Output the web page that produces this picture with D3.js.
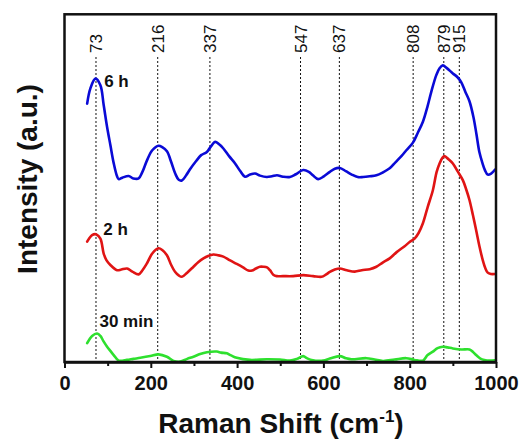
<!DOCTYPE html>
<html>
<head>
<meta charset="utf-8">
<script src="https://cdn.jsdelivr.net/npm/d3@7"></script>
<style>
  html, body { margin: 0; padding: 0; background: #fff; }
  svg { display: block; font-family: "Liberation Sans", Arial, sans-serif; }
</style>
</head>
<body>
<svg id="chart" width="522" height="439"></svg>
<script>
// Raman spectra, stacked: shift (cm-1) and intensity (a.u., offset per trace)
const shift6h = [52.5,60,71.7,83.2,90.8,98.7,106.3,114,121.8,125.5,134,148.6,159.5,171.8,180.3,191.2,203.4,218,226.5,237.4,247.3,256.6,264.7,272,282,291.3,305.1,316.7,329.9,339.8,349,358.3,368.2,381.4,395.3,406.8,418.4,430,441.5,453.1,468.6,480.8,492.4,506.2,522.4,536.3,553.2,566.3,575.6,587.8,601,614.9,626.5,638,651.9,665.8,679.6,691.9,707.4,722.8,737.4,753.6,767.5,781.3,792.2,807.5,818.3,830.6,841.5,850,861.6,869.2,876.8,885.4,900,910.8,919.3,929.3,938.5,947.8,954.7,961.6,968.6,974.3,980.8,988.7,997.5];
const int6h = [74.3,78.7,81.5,79.6,73.9,67.6,62.4,57.2,53.4,52.6,53,53.5,52.8,52.8,54.6,58,60.9,62.2,61.8,60.6,57.5,54.2,52.4,52.2,53.7,55.5,57.8,59.5,60.4,62.1,63.3,62.6,61.4,59.2,57.1,55,53.3,53.9,54.2,53.6,53.2,53.4,53.7,53.3,53.2,54,55.2,54.7,53.7,52.6,53.4,54.7,55.6,55.8,54.9,53.9,53.2,53.2,53.4,53.7,54.5,55.7,57.5,59.3,60.9,63.1,65.8,69.1,73.6,77.7,82.5,84.5,85.3,84.6,83,81.9,80.5,77.6,75,70.4,65.5,60.3,57.2,55.2,53.9,54.2,55.3];

const shift2h = [52.5,64,74,83.2,90.8,97.1,106.3,121.8,131.8,144.9,157.2,171.8,180.3,191.2,203.4,218,226.5,237.4,247.3,256.6,264.7,272,284.3,298.9,309.8,322,332.9,345.1,356,368.2,383.7,399.2,413.8,426,434.6,443.8,453.1,460.7,469.3,476.2,483.8,491.7,506.2,530,553.2,576.3,595.7,605.6,614.9,626.5,638,654.2,672.7,688.9,707.4,722.8,737.4,753.6,769.8,788.3,799.8,811.4,820.6,830.6,841.5,853.7,862.3,869.2,876.1,880.7,890,900,910.8,923.1,931.6,938.5,946.6,954,961.6,969.3,975.5,980.8,988.2,997.5];
const int2h = [34.6,36.5,36.7,35.5,31.2,29.3,27.9,26.4,26.6,26.9,26,25.2,26.3,28.4,31.2,32.7,32.2,30.7,27.9,25.9,24.9,24.5,25.7,27.4,28.7,29.8,30.5,30.9,30.7,30.3,29.2,28.2,27.2,26.3,26.3,26.9,27.4,27.4,27.2,26.4,25.1,24.7,24.7,24.7,25,24.7,24.5,25.1,25.9,26.6,26.9,26.4,26,26.4,26.7,27.4,28.6,29.8,31.6,33.3,34.5,35.5,37.1,39.9,44.5,49.4,54.6,57.1,58.8,59.2,58.3,57.1,54.9,52.3,49.4,46.6,42.2,37.9,33.3,29.3,26.9,25.7,25.3,25.3];

const shift30m = [52.5,64,75.6,83.2,90.2,98.7,106.3,114,125.5,144.9,159.5,175.7,198.8,218,237.4,252.7,268.1,284.3,298.9,314.4,329.9,353,362.9,376.1,386,399.2,430,468.6,499.3,522.4,538.6,553.2,561.7,572.6,599.4,614.9,638,651.9,665,699.7,718.9,738.1,765.1,792.2,811.4,830.6,841.5,853.7,864.5,876.8,887.6,900,920.1,938.5,946.6,954,963.9,973.2,984.7,997.5];
const int30m = [5.4,7.5,8.2,7.5,6,4.4,3.2,2,0.4,0.6,0.9,1.2,1.7,2.2,1.5,0.3,0.1,0.9,1.5,2.3,2.8,3,2.7,2.5,1.9,1.2,0.6,0.8,0.7,0.4,0.9,1.7,1.1,0.6,0.4,1,1.7,1.1,0.8,1.1,0.7,0.3,0.7,1.1,0.6,0.4,2,3,4,4.4,4.2,3.9,3.6,3.6,2.9,2,1,0.6,0.4,0.5];

const seriesNames = ["6 h", "2 h", "30 min"];
const seriesColors = ["#0a0ad6", "#e01414", "#2ee02e"];

// Marked band positions (cm-1)
const peakPositions = [73, 216, 337, 547, 637, 808, 879, 915];

const xTicks = [0, 200, 400, 600, 800, 1000];
const xMinorTicks = [100, 300, 500, 700, 900];

const svg = d3.select("#chart");
const plotL = 64.5, plotR = 496, plotT = 14.3, plotB = 362;

const x = d3.scaleLinear().domain([0, 1000]).range([plotL, plotR]);
const y = d3.scaleLinear().domain([0, 100]).range([plotB, plotT]);

// dotted guide lines for the bands, with rotated labels above
const guides = svg.append("g");
peakPositions.forEach(p => {
  guides.append("line")
    .attr("x1", x(p)).attr("x2", x(p))
    .attr("y1", 57).attr("y2", plotB)
    .attr("stroke", "#111").attr("stroke-width", 1)
    .attr("stroke-dasharray", "2,2");
  guides.append("text")
    .attr("transform", `translate(${x(p) + 6},53) rotate(-90)`)
    .attr("text-anchor", "start")
    .attr("font-size", 17)
    .attr("fill", "#111")
    .text(p);
});

// spectra
const traces = [
  { name: seriesNames[0], xs: shift6h, ys: int6h, color: seriesColors[0] },
  { name: seriesNames[1], xs: shift2h, ys: int2h, color: seriesColors[1] },
  { name: seriesNames[2], xs: shift30m, ys: int30m, color: seriesColors[2] }
];
const line = d3.line()
  .x(d => x(d[0]))
  .y(d => y(d[1]))
  .curve(d3.curveCatmullRom.alpha(0.5));

traces.forEach(t => {
  svg.append("path")
    .datum(d3.zip(t.xs, t.ys))
    .attr("d", line)
    .attr("fill", "none")
    .attr("stroke", t.color)
    .attr("stroke-width", 2.6)
    .attr("stroke-linejoin", "round")
    .attr("stroke-linecap", "round");
});

// trace names
const nameSpots = [[92, 87], [90, 235], [81, 327]];
traces.forEach((t, i) => {
  svg.append("text")
    .attr("x", x(nameSpots[i][0]))
    .attr("y", nameSpots[i][1])
    .attr("font-size", 17)
    .attr("font-weight", "bold")
    .attr("fill", "#111")
    .text(t.name);
});

// frame
svg.append("rect")
  .attr("x", plotL).attr("y", plotT)
  .attr("width", plotR - plotL).attr("height", plotB - plotT)
  .attr("fill", "none").attr("stroke", "#111").attr("stroke-width", 2.5);

// bottom axis
const xAxis = d3.axisBottom(x).tickValues(xTicks).tickSize(6).tickSizeOuter(0).tickPadding(8)
  .tickFormat(d3.format("d"));
const gx = svg.append("g").attr("transform", `translate(0,${plotB})`).call(xAxis);
gx.select(".domain").attr("stroke", "#111").attr("stroke-width", 2.5);
gx.selectAll(".tick line").attr("stroke", "#111").attr("stroke-width", 2);
gx.selectAll(".tick text")
  .attr("font-size", 20).attr("font-weight", "bold").attr("fill", "#111")
  .attr("font-family", "'Liberation Sans', Arial, sans-serif");

const gxm = svg.append("g").attr("transform", `translate(0,${plotB})`)
  .call(d3.axisBottom(x).tickValues(xMinorTicks).tickSize(4).tickFormat(""));
gxm.select(".domain").remove();
gxm.selectAll(".tick line").attr("stroke", "#111").attr("stroke-width", 2);

// axis titles
const xTitle = svg.append("text")
  .attr("x", 281).attr("y", 433)
  .attr("text-anchor", "middle")
  .attr("font-size", 28).attr("font-weight", "bold").attr("fill", "#111");
xTitle.append("tspan").text("Raman Shift (cm");
xTitle.append("tspan").attr("font-size", 17).attr("dy", -11).text("-1");
xTitle.append("tspan").attr("dy", 11).text(")");

svg.append("text")
  .attr("transform", "translate(37,179) rotate(-90)")
  .attr("text-anchor", "middle")
  .attr("font-size", 28).attr("font-weight", "bold").attr("fill", "#111")
  .text("Intensity (a.u.)");
</script>
</body>
</html>
